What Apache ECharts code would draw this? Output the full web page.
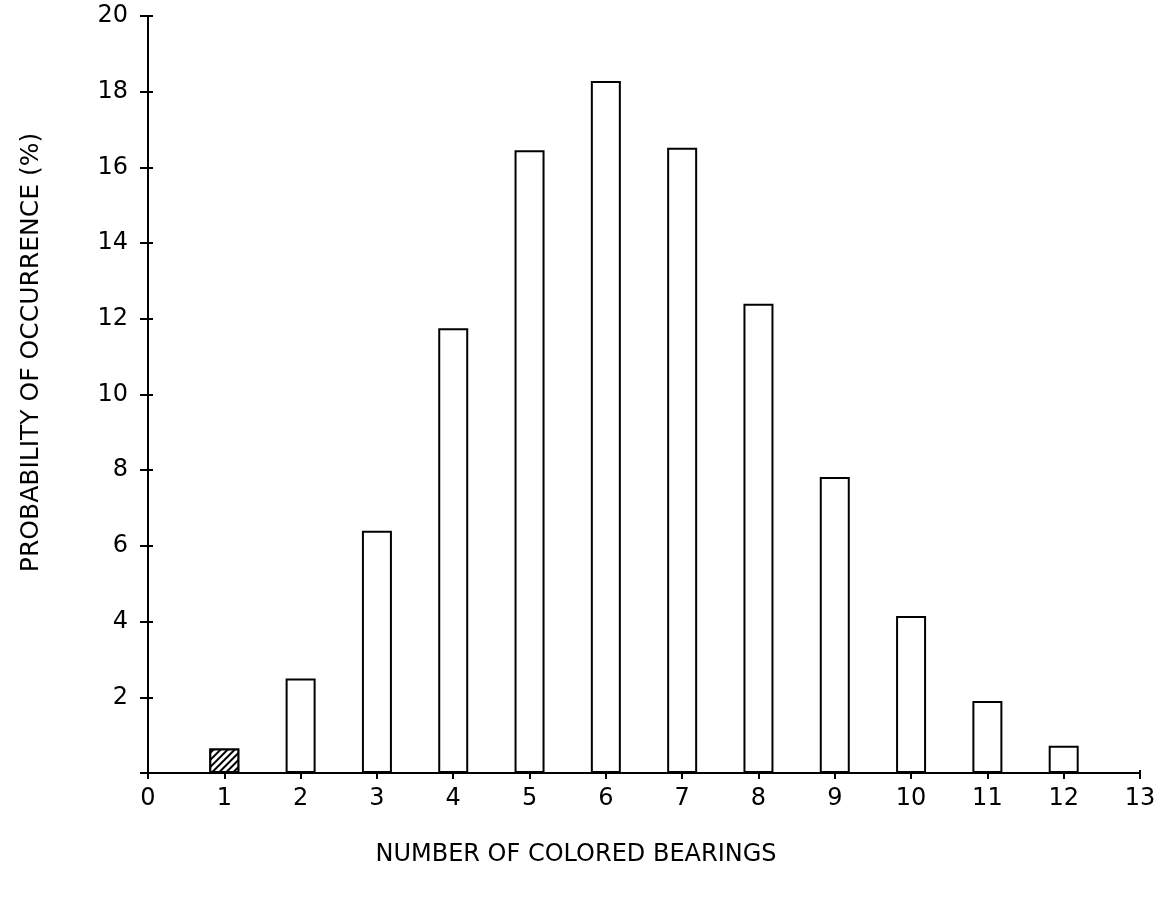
<!DOCTYPE html>
<html>
<head>
<meta charset="utf-8">
<script src="https://cdn.jsdelivr.net/npm/echarts@6/dist/echarts.min.js"></script>
<style>html,body{margin:0;padding:0;background:#fff;}#c{width:1165px;height:898px;}</style>
</head>
<body>
<div id="c"></div>
<script>
var categories = [1, 2, 3, 4, 5, 6, 7, 8, 9, 10, 11, 12];
var probabilities = [0.65, 2.5, 6.4, 11.75, 16.45, 18.28, 16.52, 12.4, 7.82, 4.15, 1.9, 0.72];
var hatchedCategories = [1];
var xTicks = [0, 13, 1];
var yTicks = [0, 20, 2];
var xTitle = 'NUMBER OF COLORED BEARINGS';
var yTitle = 'PROBABILITY OF OCCURRENCE (%)';

var FONT = 'DejaVu Sans';
var chart = echarts.init(document.getElementById('c'), null, {renderer: 'canvas'});

var barData = categories.map(function (c, i) {
  var item = {value: [c, probabilities[i]]};
  if (hatchedCategories.indexOf(c) >= 0) {
    item.itemStyle = {
      color: '#fff',
      decal: {
        symbol: 'rect',
        color: '#000',
        backgroundColor: '#fff',
        dashArrayX: [1, 0],
        dashArrayY: [1.4, 2.2],
        rotation: -Math.PI / 4,
        symbolSize: 1
      }
    };
  }
  return item;
});

var axisLineStyle = {color: '#000', width: 2};

chart.setOption({
  backgroundColor: '#fff',
  animation: false,
  grid: {left: 148, right: 25, top: 16, bottom: 125, containLabel: false},
  xAxis: [{
    type: 'value',
    min: xTicks[0], max: xTicks[1], interval: xTicks[2],
    name: xTitle,
    nameLocation: 'middle',
    nameGap: 70,
    nameTextStyle: {fontFamily: FONT, fontSize: 24, color: '#000', padding: [0, 136, 0, 0]},
    axisLine: {show: true, lineStyle: axisLineStyle},
    axisTick: {show: true, length: 6, lineStyle: {color: '#000', width: 2}},
    axisLabel: {fontFamily: FONT, fontSize: 24, color: '#000', margin: 14},
    splitLine: {show: false}
  }, {
    type: 'value', position: 'bottom',
    min: xTicks[0], max: xTicks[1], interval: xTicks[2],
    axisLine: {show: false},
    axisTick: {show: true, inside: true, length: 3, lineStyle: {color: '#000', width: 2}},
    axisLabel: {show: false},
    splitLine: {show: false}
  }],
  yAxis: [{
    type: 'value',
    min: yTicks[0], max: yTicks[1], interval: yTicks[2],
    name: yTitle,
    nameLocation: 'middle',
    nameGap: 104,
    nameRotate: 90,
    nameTextStyle: {fontFamily: FONT, fontSize: 25, color: '#000', padding: [0, 0, 0, 84]},
    axisLine: {show: true, lineStyle: axisLineStyle},
    axisTick: {show: true, length: 8, lineStyle: {color: '#000', width: 2}},
    axisLabel: {
      fontFamily: FONT, fontSize: 24, color: '#000', margin: 20,
      formatter: function (v) { return v === 0 ? '' : String(v); }
    },
    splitLine: {show: false}
  }, {
    type: 'value', position: 'left',
    min: yTicks[0], max: yTicks[1], interval: yTicks[2],
    axisLine: {show: false},
    axisTick: {show: true, inside: true, length: 5, lineStyle: {color: '#000', width: 2}},
    axisLabel: {show: false},
    splitLine: {show: false}
  }],
  series: [{
    type: 'bar',
    xAxisIndex: 0,
    yAxisIndex: 0,
    barWidth: 30,
    data: barData,
    itemStyle: {color: '#fff', borderColor: '#000', borderWidth: 2},
    z: 3
  }]
});
</script>
</body>
</html>
